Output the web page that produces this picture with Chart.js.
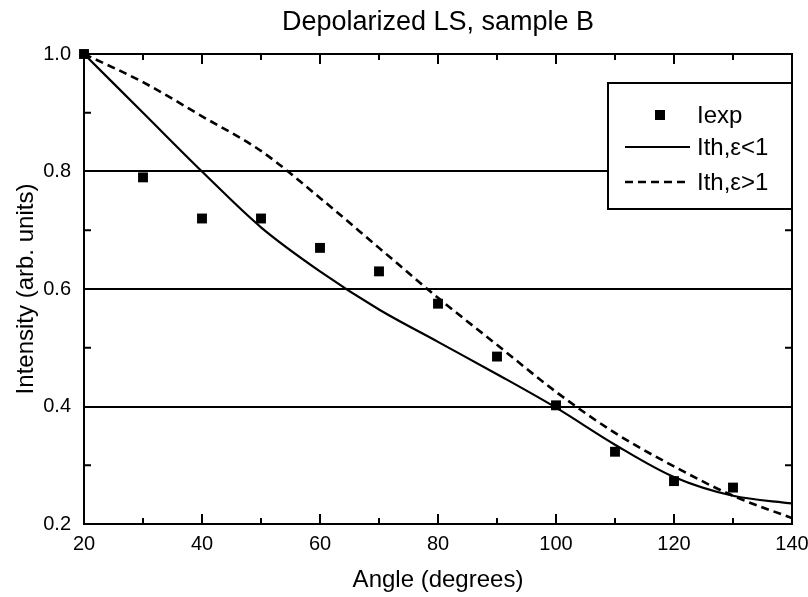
<!DOCTYPE html>
<html>
<head>
<meta charset="utf-8">
<script src="https://cdn.jsdelivr.net/npm/chart.js@4/dist/chart.umd.min.js"></script>
<style>
  html, body { margin: 0; padding: 0; background: #fff; }
  #wrap { width: 808px; height: 597px; }
</style>
</head>
<body>
<div id="wrap"><canvas id="chart"></canvas></div>
<script>
// values
const thAngles = [20, 30, 40, 50, 60, 70, 80, 90, 100, 110, 120, 130, 140];
const ithLess = [1.0, 0.90, 0.80, 0.705, 0.63, 0.565, 0.51, 0.455, 0.398, 0.335, 0.28, 0.248, 0.235];
const ithMore = [1.0, 0.952, 0.894, 0.835, 0.755, 0.67, 0.585, 0.505, 0.425, 0.355, 0.298, 0.248, 0.21];
const expAngles = [20, 30, 40, 50, 60, 70, 80, 90, 100, 110, 120, 130];
const iexp = [1.0, 0.79, 0.72, 0.72, 0.67, 0.63, 0.575, 0.485, 0.402, 0.323, 0.273, 0.262];
const seriesNames = ['Iexp', 'Ith,\u03b5<1', 'Ith,\u03b5>1'];
const gridValues = [0.4, 0.6, 0.8];

const FONT = '"Liberation Sans", Arial, sans-serif';

let pts = (xs, ys) => xs.map((x, i) => ({x: x, y: ys[i]}));

// frame round the plot and inward tick marks, like the original
const framePlugin = {
  id: 'frame',
  afterDatasetsDraw(chart) {
    const {ctx, chartArea: a, scales: {x, y}} = chart;
    ctx.save();
    ctx.strokeStyle = '#000';
    ctx.lineWidth = 2;
    ctx.strokeRect(a.left, a.top, a.right - a.left, a.bottom - a.top);
    ctx.beginPath();
    for (let v = 20; v <= 140; v += 10) {
      let px = x.getPixelForValue(v);
      let len = v % 20 === 0 ? 10 : 6;
      ctx.moveTo(px, a.bottom); ctx.lineTo(px, a.bottom - len);
      ctx.moveTo(px, a.top); ctx.lineTo(px, a.top + len);
    }
    for (let k = 3; k <= 9; k += 2) {
      let py = y.getPixelForValue(k / 10);
      ctx.moveTo(a.left, py); ctx.lineTo(a.left + 7, py);
      ctx.moveTo(a.right, py); ctx.lineTo(a.right - 7, py);
    }
    ctx.stroke();
    ctx.restore();
  }
};

// boxed legend in the upper right corner
const legendPlugin = {
  id: 'boxLegend',
  afterDraw(chart) {
    const {ctx, chartArea: a} = chart;
    const left = a.right - 184, top = a.top + 29;
    ctx.save();
    ctx.fillStyle = '#fff';
    ctx.fillRect(left, top, 184, 126);
    ctx.strokeStyle = '#000';
    ctx.lineWidth = 2;
    ctx.strokeRect(left, top, 184, 126);
    const rows = [32, 64, 99];
    ctx.font = '24px ' + FONT;
    ctx.textBaseline = 'middle';
    chart.data.datasets.forEach((ds, i) => {
      let yy = top + rows[i];
      ctx.fillStyle = '#000';
      if (ds.showLine === false) {
        ctx.fillRect(left + 47, yy - 5, 10, 10);
      } else {
        ctx.beginPath();
        ctx.setLineDash(ds.borderDash || []);
        ctx.lineWidth = ds.borderWidth;
        ctx.moveTo(left + 17, yy);
        ctx.lineTo(left + 82, yy);
        ctx.stroke();
        ctx.setLineDash([]);
      }
      ctx.fillText(ds.label, left + 89, yy + 1);
    });
    ctx.restore();
  }
};

let ctx = document.getElementById('chart').getContext('2d');
let chart = new Chart(ctx, {
  type: 'line',
  data: {
    datasets: [{
      label: seriesNames[0],
      data: pts(expAngles, iexp),
      showLine: false,
      pointStyle: 'rect',
      pointRadius: 7,
      backgroundColor: '#000',
      borderColor: '#000',
      borderWidth: 0,
      clip: false
    }, {
      label: seriesNames[1],
      data: pts(thAngles, ithLess),
      borderColor: '#000',
      borderWidth: 2.2,
      pointRadius: 0,
      cubicInterpolationMode: 'monotone'
    }, {
      label: seriesNames[2],
      data: pts(thAngles, ithMore),
      borderColor: '#000',
      borderWidth: 2.6,
      borderDash: [8, 5],
      pointRadius: 0,
      cubicInterpolationMode: 'monotone'
    }]
  },
  options: {
    responsive: true,
    maintainAspectRatio: false,
    animation: false,
    layout: { padding: { left: 0, right: 0, top: 0, bottom: 0 } },
    plugins: {
      legend: { display: false },
      tooltip: { enabled: false },
      title: {
        display: true,
        fullSize: false,
        text: 'Depolarized LS, sample B',
        color: '#000',
        font: { family: FONT, size: 27, weight: 'normal' },
        padding: { top: 6, bottom: 15.6 }
      }
    },
    scales: {
      x: {
        type: 'linear',
        min: 20, max: 140,
        afterFit: s => { s.height = 73; s.paddingRight = 16; },
        border: { display: true, color: '#000', width: 2 },
        grid: { display: false, drawTicks: false },
        ticks: {
          stepSize: 20,
          padding: 8,
          color: '#000',
          font: { family: FONT, size: 20 }
        },
        title: {
          display: true,
          text: 'Angle (degrees)',
          color: '#000',
          font: { family: FONT, size: 24 },
          padding: { top: 0, bottom: 2 }
        }
      },
      y: {
        min: 0.2, max: 1.0,
        afterFit: s => { s.width = 84; },
        border: { display: true, color: '#000', width: 2 },
        grid: {
          drawTicks: false,
          lineWidth: 2,
          color: c => gridValues.some(g => Math.abs(g - c.tick.value) < 1e-6) ? '#000' : 'rgba(0,0,0,0)'
        },
        ticks: {
          stepSize: 0.2,
          padding: 13,
          color: '#000',
          font: { family: FONT, size: 20 },
          callback: v => v.toFixed(1)
        },
        title: {
          display: true,
          text: 'Intensity (arb. units)',
          color: '#000',
          font: { family: FONT, size: 24 },
          padding: { top: 12, bottom: 0 }
        }
      }
    }
  },
  plugins: [framePlugin, legendPlugin]
});
</script>
</body>
</html>
